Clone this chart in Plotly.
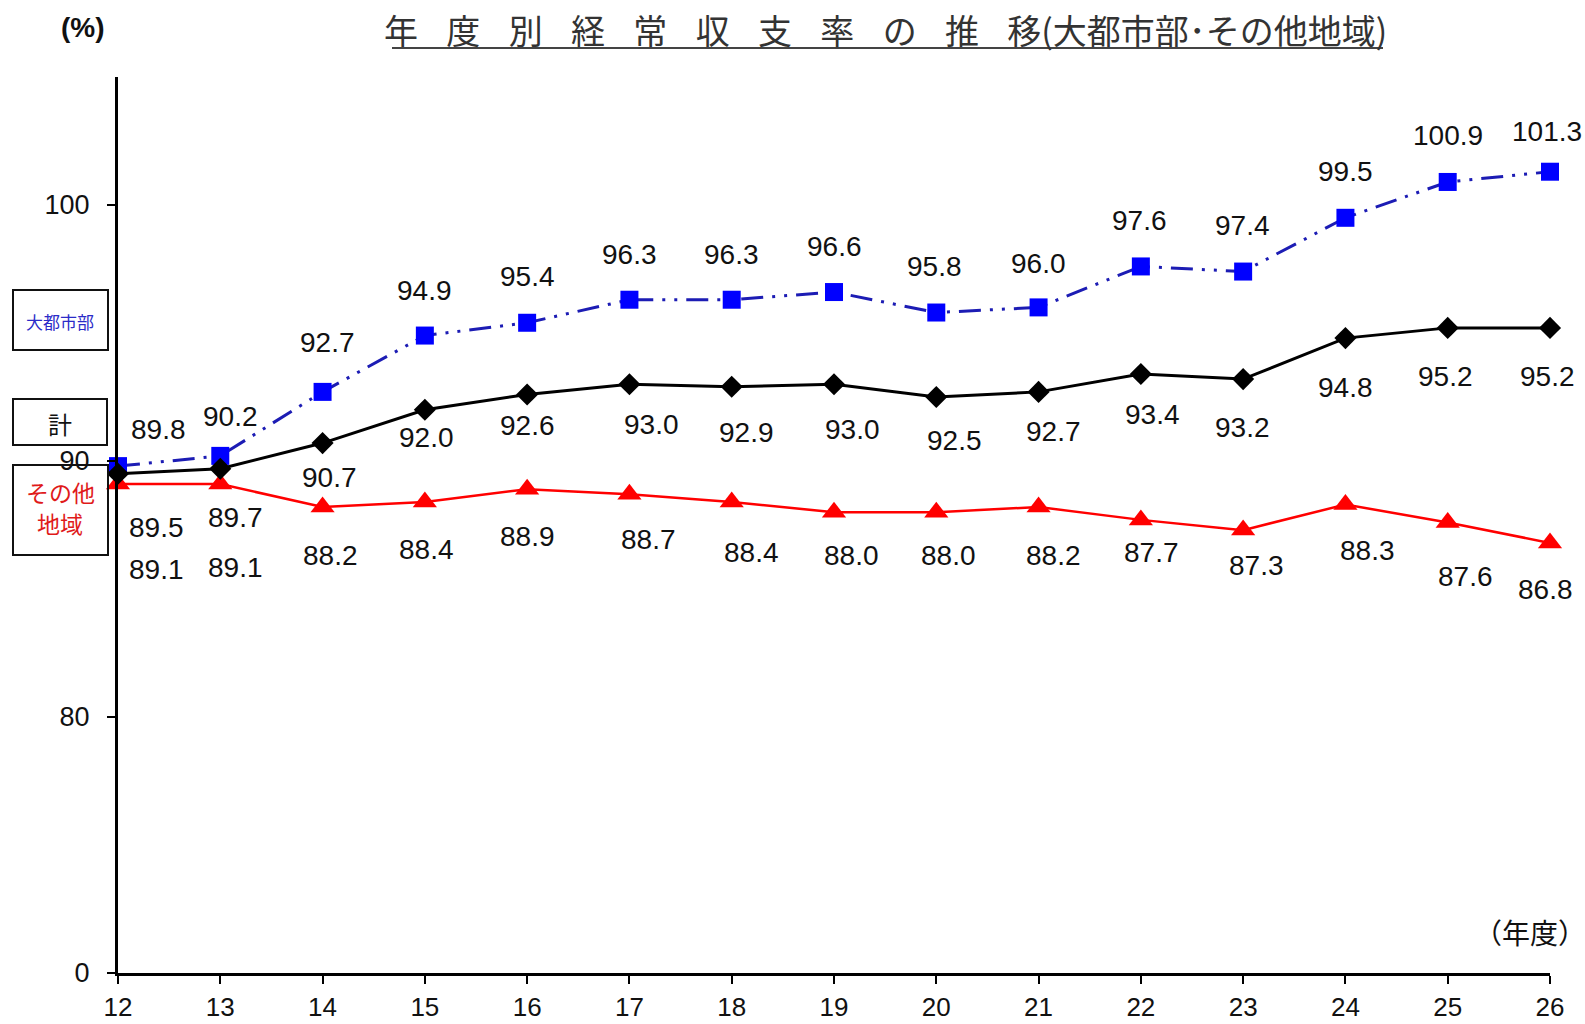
import plotly.graph_objects as go

# Fiscal years (Heisei) and ordinary balance ratios (%)
years = list(range(12, 27))
year_labels = [str(y) for y in years]
metro = [89.8, 90.2, 92.7, 94.9, 95.4, 96.3, 96.3, 96.6, 95.8, 96.0, 97.6, 97.4, 99.5, 100.9, 101.3]
total = [89.5, 89.7, 90.7, 92.0, 92.6, 93.0, 92.9, 93.0, 92.5, 92.7, 93.4, 93.2, 94.8, 95.2, 95.2]
other = [89.1, 89.1, 88.2, 88.4, 88.9, 88.7, 88.4, 88.0, 88.0, 88.2, 87.7, 87.3, 88.3, 87.6, 86.8]

y_ticks_low = [0]
y_ticks_high = [80, 90, 100]

# Value-label placement (pixel offsets from each marker; +dy is downwards)
metro_off = [(40, -37), (10, -39), (5, -49), (0, -45), (0, -46), (0, -45), (0, -45), (0, -46),
             (-2, -46), (0, -44), (-1, -46), (-1, -46), (0, -46), (0, -46), (-3, -40)]
total_off = [(38, 54), (15, 49), (7, 34), (2, 28), (0, 31), (22, 40), (15, 46), (18, 45),
             (18, 43), (15, 40), (12, 41), (-1, 48), (0, 49), (-2, 49), (-3, 49)]
other_off = [(38, 85), (15, 83), (8, 48), (2, 48), (0, 47), (19, 45), (20, 51), (17, 43),
             (12, 43), (15, 48), (11, 33), (13, 35), (22, 46), (18, 54), (-5, 47)]

W, H = 1585, 1024
L, R, T, B = 118, 35, 77, 51
PW, PH = W - L - R, H - T - B
BREAK = 256 / PH  # share of plot height for the compressed 0-80 segment


def px(xp):
    return (xp - L) / PW


def py(yp):
    return (H - B - yp) / PH


NUM_FONT = "Liberation Sans, Arial, sans-serif"
JP_FONT = "Noto Sans CJK JP, sans-serif"

fig = go.Figure()

# Invisible point so the lower (0-80) segment and the shared x axis get drawn
fig.add_trace(go.Scatter(
    x=[years[0]], y=[y_ticks_low[0]], xaxis="x", yaxis="y", mode="markers",
    marker=dict(opacity=0), hoverinfo="skip", showlegend=False,
))
fig.add_trace(go.Scatter(
    x=years, y=metro, xaxis="x", yaxis="y2", mode="lines+markers", name="大都市部",
    line=dict(color="#1c1cb4", width=3, dash="22px,9px,3px,9px,3px,9px"),
    marker=dict(symbol="square", size=18, color="#0000ff"),
    cliponaxis=False,
))
fig.add_trace(go.Scatter(
    x=years, y=other, xaxis="x", yaxis="y2", mode="lines+markers", name="その他地域",
    line=dict(color="#ff0000", width=2.5),
    marker=dict(symbol="triangle-up", size=21, color="#ff0000"),
    cliponaxis=False,
))
fig.add_trace(go.Scatter(
    x=years, y=total, xaxis="x", yaxis="y2", mode="lines+markers", name="計",
    line=dict(color="#000000", width=3),
    marker=dict(symbol="diamond", size=17, color="#000000"),
    cliponaxis=False,
))

annotations = []
for series, offs in ((metro, metro_off), (total, total_off), (other, other_off)):
    for x, v, (dx, dy) in zip(years, series, offs):
        annotations.append(dict(
            x=x, y=v, xref="x", yref="y2", text=f"{v:.1f}", showarrow=False,
            xshift=dx, yshift=-dy, xanchor="center", yanchor="middle",
            font=dict(family=NUM_FONT, size=28, color="#111111"),
        ))

GAP = "\u2002\u2004"
title_text = GAP.join("年度別経常収支率の推移") + "(大都市部･その他地域)"
annotations.append(dict(
    x=px(885), y=py(30), xref="paper", yref="paper", text=title_text, showarrow=False,
    xanchor="center", yanchor="middle",
    font=dict(family=JP_FONT, size=34, color="#333333"),
))
annotations.append(dict(
    x=px(83), y=py(27), xref="paper", yref="paper", text="<b>(%)</b>", showarrow=False,
    xanchor="center", yanchor="middle", font=dict(family=NUM_FONT, size=28, color="#111111"),
))
annotations.append(dict(
    x=px(1530), y=py(932), xref="paper", yref="paper", text="（年度）", showarrow=False,
    xanchor="center", yanchor="middle", font=dict(family=JP_FONT, size=28, color="#111111"),
))

# Series name boxes beside the y axis: (box, [(text line, centre y)], colour, font size)
boxes = [
    ((13, 290, 108, 350), [("大都市部", 321)], "#2b2bc8", 17),
    ((13, 399, 107, 445), [("計", 423)], "#111111", 24),
    ((13, 465, 108, 555), [("その他", 492), ("地域", 523)], "#e01a1a", 23),
]
shapes = []
for (x0, y0, x1, y1), lines, color, size in boxes:
    shapes.append(dict(type="rect", xref="paper", yref="paper",
                       x0=px(x0), x1=px(x1), y0=py(y1), y1=py(y0),
                       line=dict(color="#111111", width=2), fillcolor="rgba(0,0,0,0)"))
    for label, yc in lines:
        annotations.append(dict(
            x=px((x0 + x1) / 2), y=py(yc), xref="paper", yref="paper",
            text=label, showarrow=False, xanchor="center", yanchor="middle",
            font=dict(family=JP_FONT, size=size, color=color),
        ))

# Title underline
shapes.append(dict(type="line", xref="paper", yref="paper",
                   x0=px(392), x1=px(1383), y0=py(48), y1=py(48),
                   line=dict(color="#444444", width=2)))

axis_common = dict(
    showline=True, linecolor="#000000", linewidth=3, ticks="outside", ticklen=8,
    tickwidth=2, tickcolor="#000000", showgrid=False, zeroline=False, automargin=False,
    tickfont=dict(family=NUM_FONT, size=27, color="#111111"),
)

fig.update_layout(
    width=W, height=H, margin=dict(l=L, r=R, t=T, b=B, pad=0, autoexpand=False),
    paper_bgcolor="white", plot_bgcolor="white", showlegend=False,
    xaxis=dict(range=[12, 26], tickvals=years, ticktext=year_labels, anchor="y",
               ticklabelstandoff=1, **axis_common),
    yaxis=dict(domain=[0, BREAK], range=[0, 80], tickvals=y_ticks_low, anchor="x",
               ticklabelstandoff=12, **axis_common),
    yaxis2=dict(domain=[BREAK, 1], range=[80, 105], tickvals=y_ticks_high, anchor="x",
                ticklabelstandoff=12, **axis_common),
    annotations=annotations, shapes=shapes,
)
fig.update_xaxes(tickfont_size=26)

fig.write_html("out.html")
